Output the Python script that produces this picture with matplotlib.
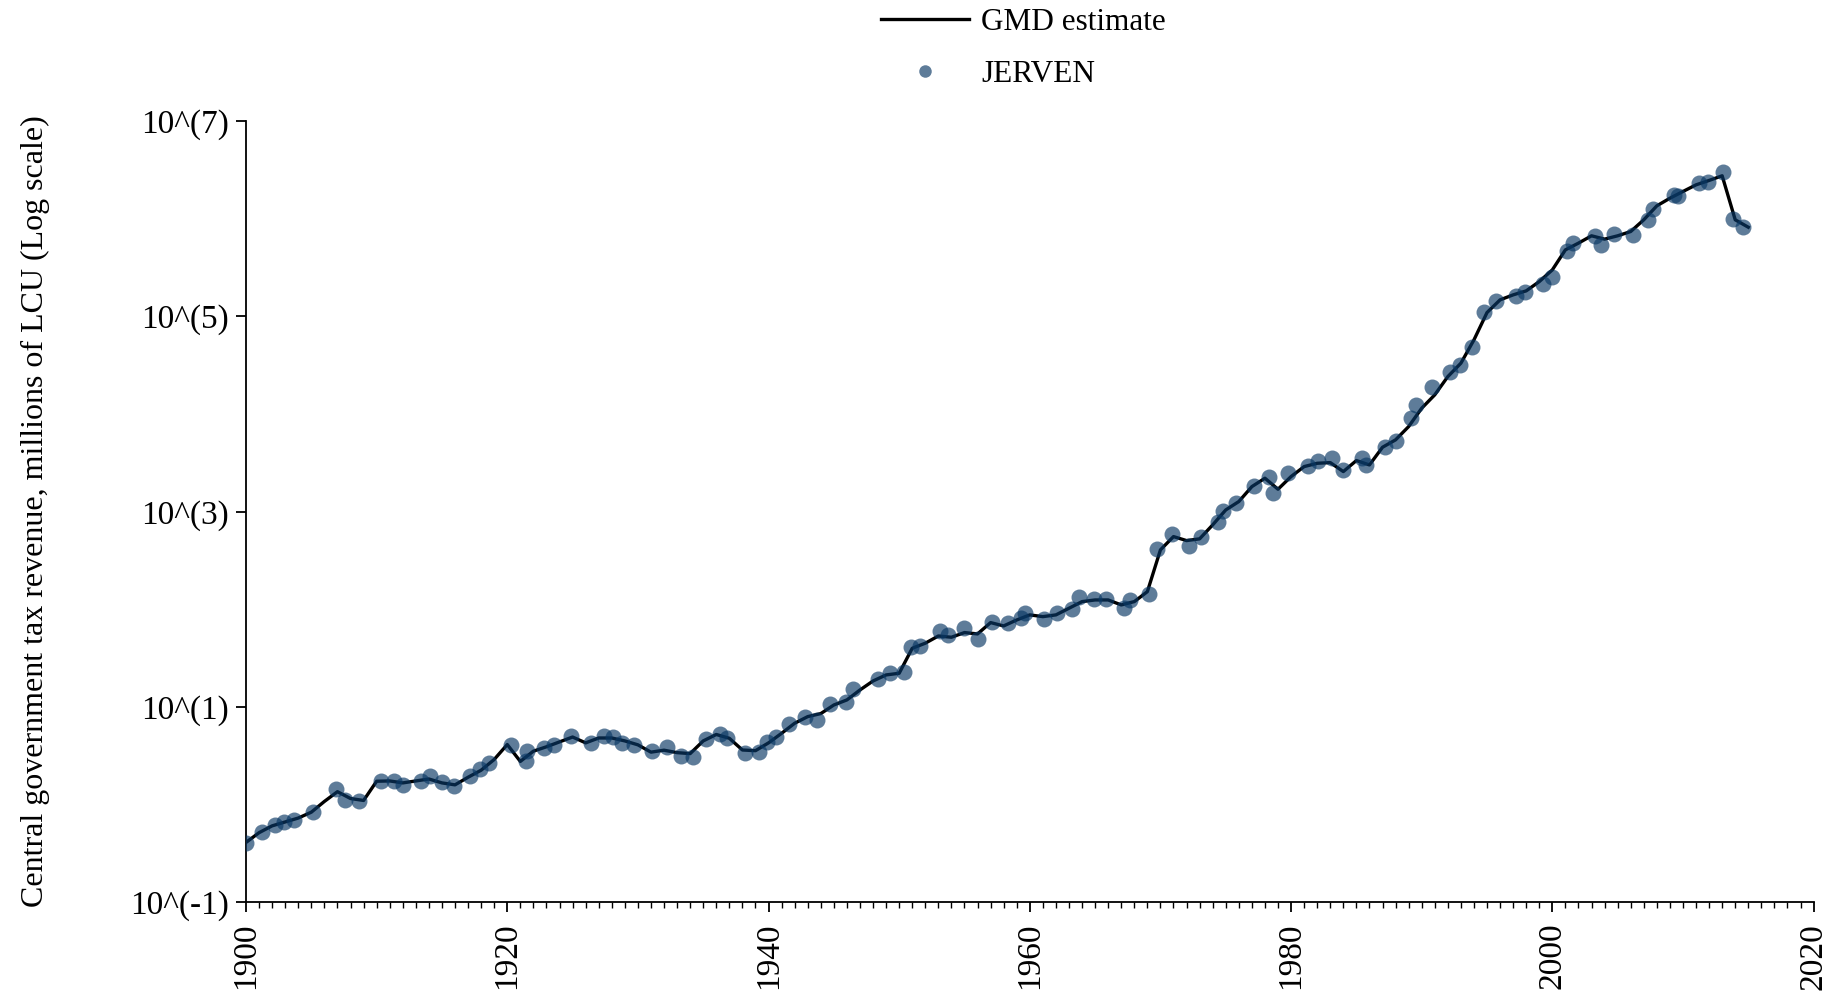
import numpy as np
import matplotlib
matplotlib.use("Agg")
import matplotlib.pyplot as plt
from matplotlib.ticker import FixedLocator, MultipleLocator, NullLocator
from matplotlib.lines import Line2D

plt.rcParams["font.family"] = ["Liberation Serif", "DejaVu Serif"]

# GMD estimate, one value per year (log10 of millions of LCU)
gmd_years = list(range(1900, 2016))
gmd_log10 = [
    -0.39, -0.29, -0.22, -0.18, -0.14, -0.08, 0.03, 0.13, 0.06, 0.04,
    0.237, 0.24, 0.22, 0.24, 0.26, 0.22, 0.20, 0.278, 0.35, 0.46,
    0.613, 0.44, 0.545, 0.59, 0.64, 0.69, 0.63, 0.68, 0.68, 0.65,
    0.61, 0.535, 0.555, 0.53, 0.52, 0.65, 0.716, 0.677, 0.557, 0.55,
    0.63, 0.728, 0.831, 0.899, 0.93, 1.018, 1.07, 1.172, 1.264, 1.326,
    1.343, 1.599, 1.651, 1.725, 1.712, 1.760, 1.746, 1.862, 1.828, 1.889,
    1.941, 1.923, 1.941, 2.009, 2.077, 2.094, 2.094, 2.043, 2.077, 2.179,
    2.607, 2.743, 2.702, 2.72, 2.863, 3.016, 3.102, 3.255, 3.341, 3.228,
    3.358, 3.460, 3.494, 3.501, 3.409, 3.522, 3.477, 3.658, 3.734, 3.870,
    4.058, 4.195, 4.382, 4.519, 4.758, 5.038, 5.168, 5.219, 5.260, 5.355,
    5.475, 5.680, 5.749, 5.824, 5.790, 5.824, 5.868, 5.988, 6.131, 6.209,
    6.278, 6.346, 6.391, 6.439, 5.988, 5.912,
]

# JERVEN series (fiscal-year dates, log10 of millions of LCU)
jerven_years = [
    1900.0, 1901.25, 1902.2, 1902.9, 1903.7, 1905.15, 1906.9, 1907.6, 1908.65,
    1910.3, 1911.3, 1912.0, 1913.4, 1914.1, 1915.0, 1915.9, 1917.15, 1917.9,
    1918.6, 1920.3, 1921.4, 1921.5, 1922.8, 1923.6, 1924.9, 1926.4, 1927.4,
    1928.1, 1928.8, 1929.7, 1931.1, 1932.2, 1933.3, 1934.2, 1935.2, 1936.3,
    1936.8, 1938.2, 1939.3, 1939.9, 1940.6, 1941.6, 1942.8, 1943.7, 1944.7,
    1945.9, 1946.5, 1948.4, 1949.3, 1950.4, 1950.9, 1951.6, 1953.1, 1953.7,
    1955.0, 1956.0, 1957.1, 1958.3, 1959.3, 1959.6, 1961.1, 1962.1, 1963.2,
    1963.8, 1964.9, 1965.8, 1967.2, 1967.7, 1969.1, 1969.75, 1970.9, 1972.2,
    1973.1, 1974.4, 1974.8, 1975.8, 1977.2, 1978.3, 1978.6, 1979.8, 1981.3,
    1982.1, 1983.1, 1984.0, 1985.4, 1985.7, 1987.2, 1988.0, 1989.15, 1989.6,
    1990.8, 1992.2, 1992.95, 1993.85, 1994.8, 1995.7, 1997.2, 1997.9, 1999.3,
    1999.95, 2001.1, 2001.6, 2003.3, 2003.7, 2004.7, 2006.2, 2007.3, 2007.7,
    2009.3, 2009.6, 2011.2, 2011.9, 2013.1, 2013.8, 2014.6,
]
jerven_log10 = [
    -0.396, -0.287, -0.208, -0.184, -0.157, -0.081, 0.158, 0.049, 0.031,
    0.244, 0.237, 0.203, 0.244, 0.288, 0.227, 0.192, 0.288, 0.363,
    0.425, 0.613, 0.442, 0.545, 0.579, 0.613, 0.699, 0.624, 0.699,
    0.692, 0.630, 0.613, 0.545, 0.586, 0.493, 0.483, 0.665, 0.716,
    0.682, 0.530, 0.540, 0.643, 0.687, 0.824, 0.899, 0.865, 1.029,
    1.052, 1.179, 1.282, 1.343, 1.360, 1.610, 1.623, 1.777, 1.736,
    1.804, 1.691, 1.872, 1.862, 1.913, 1.958, 1.897, 1.958, 2.002,
    2.128, 2.101, 2.101, 2.009, 2.094, 2.157, 2.615, 2.770, 2.650,
    2.743, 2.890, 3.006, 3.091, 3.262, 3.358, 3.194, 3.399, 3.467,
    3.518, 3.552, 3.426, 3.546, 3.477, 3.665, 3.726, 3.961, 4.092,
    4.273, 4.433, 4.498, 4.683, 5.048, 5.161, 5.212, 5.247, 5.329,
    5.407, 5.673, 5.749, 5.817, 5.732, 5.844, 5.834, 5.981, 6.100,
    6.244, 6.234, 6.363, 6.374, 6.476, 5.998, 5.912,
]

ytick_powers = [-1, 1, 3, 5, 7]
xtick_years = list(range(1900, 2021, 20))

point_color = "#0a3865"

W, H = 1837, 1008
fig = plt.figure(figsize=(W / 100, H / 100), dpi=100)
ax = fig.add_axes([246 / W, 1 - 902 / H, (1813.6 - 246) / W, (902 - 121) / H])

ax.plot(gmd_years, np.power(10.0, gmd_log10), color="black", lw=2.4,
        zorder=2, solid_joinstyle="round")
ax.plot(jerven_years, np.power(10.0, jerven_log10), ls="none", marker="o",
        ms=11.5, mfc=point_color, mec="none", alpha=0.66, zorder=3)

ax.set_yscale("log")
ax.set_ylim(10.0 ** -1, 10.0 ** 7)
ax.set_xlim(1900, 2020)

ax.yaxis.set_major_locator(FixedLocator([10.0 ** p for p in ytick_powers]))
ax.yaxis.set_minor_locator(NullLocator())
ax.set_yticklabels([f"10^({p})" for p in ytick_powers])

ax.xaxis.set_major_locator(FixedLocator(xtick_years))
ax.xaxis.set_minor_locator(MultipleLocator(1))
ax.set_xticklabels([str(y) for y in xtick_years], rotation=90)

ax.tick_params(axis="both", which="major", direction="out", length=7,
               width=1.3, labelsize=24, pad=5)
ax.tick_params(axis="x", which="minor", direction="out", length=4, width=1.0)
ax.tick_params(axis="x", which="major", pad=8)

for side in ("top", "right"):
    ax.spines[side].set_visible(False)
for side in ("left", "bottom"):
    ax.spines[side].set_linewidth(1.3)

ax.set_ylabel("Central government tax revenue, millions of LCU (Log scale)",
              fontsize=23)
ax.yaxis.set_label_coords((50 - 246) / (1813.6 - 246), 0.5)

handles = [
    Line2D([], [], color="black", lw=2.4),
    Line2D([], [], ls="none", marker="o", ms=9, mfc=point_color, mec="none",
           alpha=0.66),
]
fig.legend(handles, ["GMD estimate", "JERVEN"], loc="upper center",
           bbox_to_anchor=((246 + 1813.6) / 2 / W - 6 / W, 1 - 6 / H),
           frameon=False, fontsize=22.5, handlelength=2.8, handletextpad=0.4,
           labelspacing=0.75, borderpad=0.05, borderaxespad=0)

fig.savefig("out.png", dpi=100)
